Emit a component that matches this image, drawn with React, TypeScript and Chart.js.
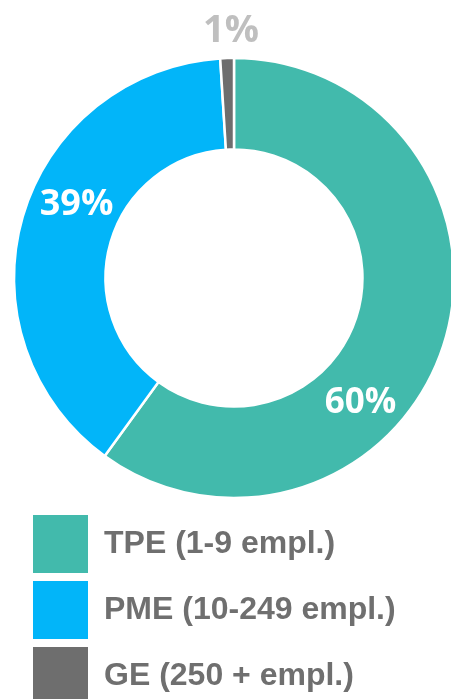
import React, { useEffect, useRef } from 'react';
import { Chart, registerables } from 'chart.js';

Chart.register(...registerables);

const categories = ['TPE (1-9 empl.)', 'PME (10-249 empl.)', 'GE (250 + empl.)'];
const shares = [60, 39, 1];
const sliceColors = ['#42BAAC', '#02B5F9', '#6E6E6E'];

// placement / style of the percentage labels (not data)
const pctLabelStyle = [
  { color: '#FFFFFF', size: 35, angleShift: 26, radius: 176 },
  { color: '#FFFFFF', size: 36, angleShift: 9.7, radius: 175 },
  { color: '#BFBFBF', size: 38, angleShift: 1.1, radius: 250 },
];

const pctLabels = {
  id: 'pctLabels',
  afterDatasetsDraw(chart: any) {
    const meta = chart.getDatasetMeta(0);
    const data = chart.data.datasets[0].data as number[];
    const total = data.reduce((a, b) => a + b, 0);
    const ctx = chart.ctx as CanvasRenderingContext2D;
    ctx.save();
    meta.data.forEach((el: any, i: number) => {
      const p = el.getProps(['x', 'y', 'startAngle', 'endAngle'], true);
      const st = pctLabelStyle[i];
      const a = (p.startAngle + p.endAngle) / 2 + (st.angleShift * Math.PI) / 180;
      const cx = p.x + Math.cos(a) * st.radius;
      const cy = p.y + Math.sin(a) * st.radius;
      const text = Math.round((data[i] / total) * 100) + '%';
      ctx.font = `bold ${st.size}px "Open Sans"`;
      ctx.fillStyle = st.color;
      ctx.textAlign = 'center';
      ctx.textBaseline = 'alphabetic';
      const m = ctx.measureText(text);
      ctx.fillText(text, cx, cy + (m.actualBoundingBoxAscent - m.actualBoundingBoxDescent) / 2);
    });
    ctx.restore();
  },
};

export default function App() {
  const ref = useRef<HTMLCanvasElement | null>(null);

  useEffect(() => {
    if (!ref.current) return;
    const chart = new Chart(ref.current, {
      type: 'doughnut',
      data: {
        labels: categories,
        datasets: [
          {
            data: shares,
            backgroundColor: sliceColors,
            borderColor: '#FFFFFF',
            borderWidth: 2.5,
            radius: 220,
            cutout: '58.4%',
            clip: false,
          } as any,
        ],
      },
      options: {
        responsive: false,
        animation: false,
        rotation: 0,
        layout: { padding: { left: 25, right: 8, top: 49, bottom: 0 } },
        plugins: {
          tooltip: { enabled: false },
          legend: {
            position: 'bottom',
            align: 'start',
            labels: {
              boxWidth: 55,
              boxHeight: 58,
              padding: 8,
              color: '#6F6F6F',
              font: { family: '"Liberation Sans", Arial, sans-serif', weight: 'bold', size: 32 },
              generateLabels: (c: any) => {
                const items = (Chart as any).overrides.doughnut.plugins.legend.labels.generateLabels(c);
                return items.map((it: any) => ({ ...it, lineWidth: 0, strokeStyle: 'rgba(0,0,0,0)' }));
              },
            },
          },
        },
      },
      plugins: [pctLabels],
    });
    return () => chart.destroy();
  }, []);

  return (
    <div
      style={{
        position: 'fixed',
        left: 0,
        top: 0,
        width: 451,
        height: 699,
        overflow: 'hidden',
        background: '#FFFFFF',
      }}
    >
      <canvas ref={ref} width={451} height={715} style={{ display: 'block', width: 451, height: 715 }} />
    </div>
  );
}
